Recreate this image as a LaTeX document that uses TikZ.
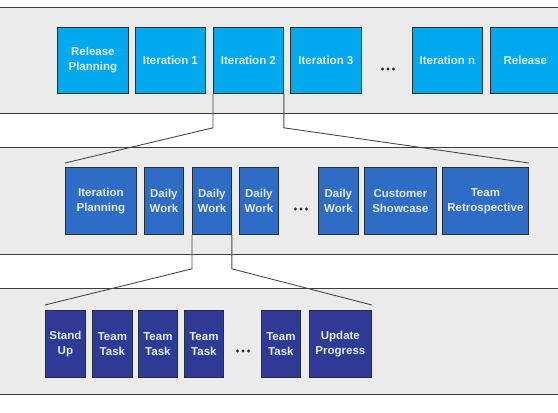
\documentclass[tikz,border=0pt]{standalone}
\usepackage{fontspec}
\setmainfont{Liberation Sans}
\definecolor{bandfill}{HTML}{EBEBEB}
\definecolor{bandline}{HTML}{3C3C3C}
\definecolor{lvone}{HTML}{03A9EE}
\definecolor{lvtwo}{HTML}{2F6CC6}
\definecolor{lvthree}{HTML}{2E3A96}
\definecolor{boxline}{HTML}{22303C}
\definecolor{txt}{HTML}{E4ECF6}
\definecolor{conn}{HTML}{4A4A4A}
\tikzset{
  band/.style={fill=bandfill, draw=bandline, line width=1pt},
  card/.style={draw=boxline, line width=0.8pt, anchor=north west, inner sep=0pt,
    align=center, text=txt, font=\bfseries\fontsize{11.5}{15}\selectfont},
  one/.style={card, fill=lvone},
  two/.style={card, fill=lvtwo},
  three/.style={card, fill=lvthree},
  dotmark/.style={fill=black!85},
  link/.style={draw=conn, line width=0.9pt}
}
\newcommand{\threedots}[1]{\foreach \k in {-5.5,0,5.5} \fill[dotmark] ([xshift=\k pt]#1) circle (1.6pt);}
\begin{document}
\begin{tikzpicture}[x=1pt,y=-1pt]
\useasboundingbox (0,0) rectangle (558,413);
\fill[white] (0,0) rectangle (558,413);
% bands
\draw[band] (-5,7) rectangle (563,113);
\draw[band] (-5,147) rectangle (563,254);
\draw[band] (-5,288) rectangle (563,394);
% row 1
\node[one, minimum width=71pt, minimum height=66pt] (rp) at (57,27) {Release\\Planning};
\node[one, minimum width=70pt, minimum height=66pt] (i1) at (135,27) {Iteration 1};
\node[one, minimum width=70pt, minimum height=66pt] (i2) at (213,27) {Iteration 2};
\node[one, minimum width=71pt, minimum height=66pt] (i3) at (290,27) {Iteration 3};
\coordinate (d1) at (388,69);
\threedots{d1}
\node[one, minimum width=70pt, minimum height=66pt] (in) at (412,27) {Iteration n};
\node[one, minimum width=70pt, minimum height=66pt] (rl) at (490,27) {Release};
% row 2
\node[two, minimum width=71pt, minimum height=67pt] (ip) at (65,167) {Iteration\\Planning};
\node[two, minimum width=39pt, minimum height=67pt] (dw1) at (144,167) {Daily\\Work};
\node[two, minimum width=39pt, minimum height=67pt] (dw2) at (192,167) {Daily\\Work};
\node[two, minimum width=39pt, minimum height=67pt] (dw3) at (239,167) {Daily\\Work};
\coordinate (d2) at (301,209);
\threedots{d2}
\node[two, minimum width=40pt, minimum height=67pt] (dw4) at (318,167) {Daily\\Work};
\node[two, minimum width=72pt, minimum height=67pt] (cs) at (364,167) {Customer\\Showcase};
\node[two, minimum width=86pt, minimum height=67pt] (tr) at (442,167) {Team\\Retrospective};
% row 3
\node[three, minimum width=40pt, minimum height=67pt] (su) at (45,310) {Stand\\Up};
\node[three, minimum width=40pt, minimum height=67pt] (t1) at (92,310) {Team\\Task};
\node[three, minimum width=39pt, minimum height=67pt] (t2) at (138,310) {Team\\Task};
\node[three, minimum width=39pt, minimum height=67pt] (t3) at (184,310) {Team\\Task};
\coordinate (d3) at (243,351);
\threedots{d3}
\node[three, minimum width=39pt, minimum height=67pt] (t4) at (261,310) {Team\\Task};
\node[three, minimum width=62pt, minimum height=67pt] (up) at (309,310) {Update\\Progress};
% connectors
\coordinate (a1) at ([yshift=-34pt]i2.south west);
\coordinate (a2) at ([yshift=-34pt]i2.south east);
\draw[link] (i2.south west) -- (a1) -- ([yshift=4pt]ip.north west);
\draw[link] (i2.south east) -- (a2) -- ([yshift=4pt]tr.north east);
\coordinate (b1) at ([yshift=-34pt]dw2.south west);
\coordinate (b2) at ([yshift=-34pt]dw2.south east);
\draw[link] (dw2.south west) -- (b1) -- ([yshift=5pt]su.north west);
\draw[link] (dw2.south east) -- (b2) -- ([yshift=5pt]up.north east);
\end{tikzpicture}
\end{document}
